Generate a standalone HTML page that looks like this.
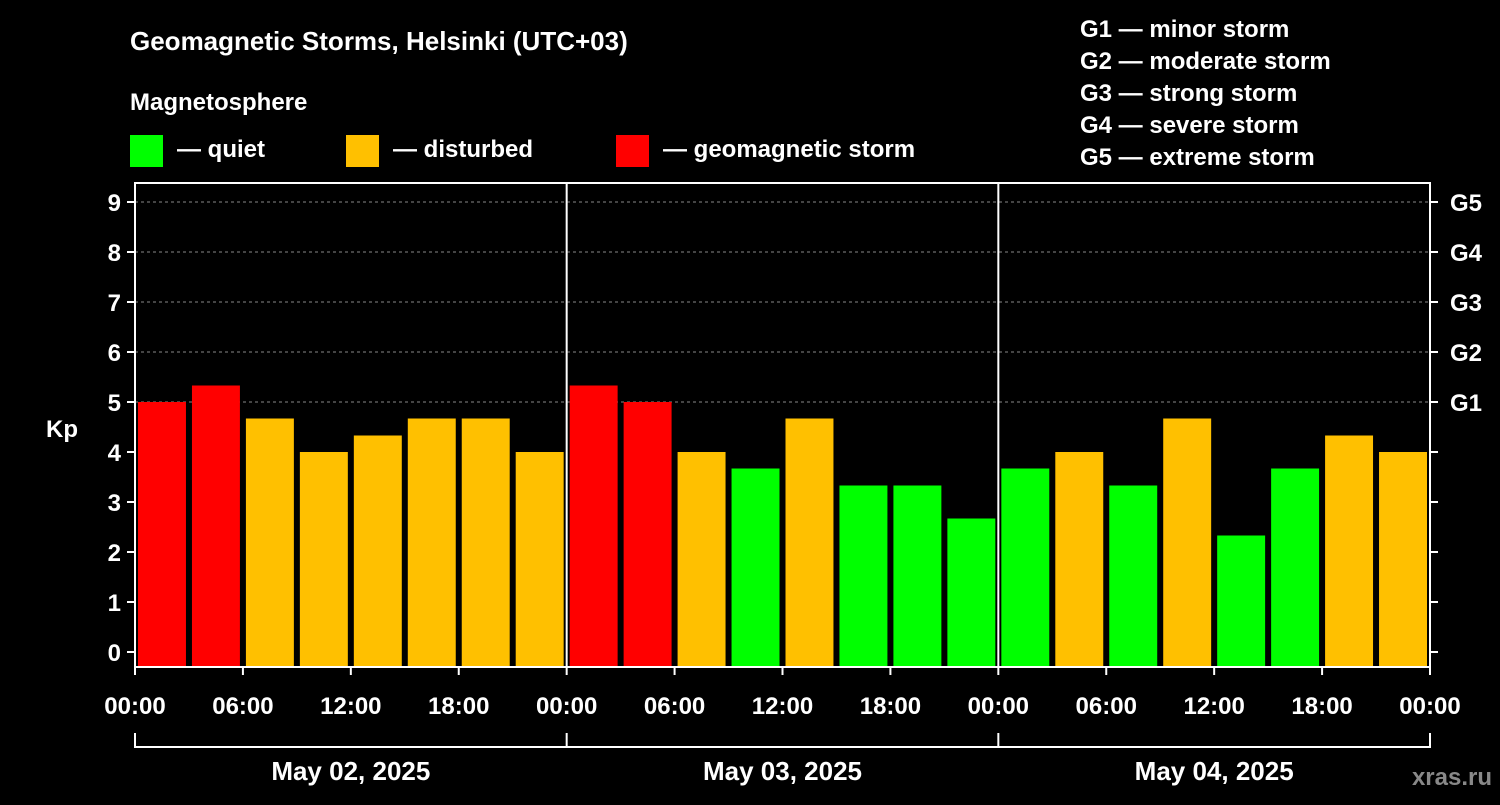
<!DOCTYPE html>
<html><head><meta charset="utf-8"><style>
body{margin:0;background:#000;width:1500px;height:800px;overflow:hidden}
svg text{font-family:"Liberation Sans",Arial,sans-serif;font-weight:bold;fill:#fff}
</style></head><body>
<svg id="c" width="1500" height="800">
<text x="130" y="50" font-size="26">Geomagnetic Storms, Helsinki (UTC+03)</text>
<text x="130" y="110" font-size="24">Magnetosphere</text>
<rect x="130" y="135" width="33" height="32" fill="#00ff00"/>
<text x="177" y="157" font-size="24">— quiet</text>
<rect x="346" y="135" width="33" height="32" fill="#ffc000"/>
<text x="393" y="157" font-size="24">— disturbed</text>
<rect x="616" y="135" width="33" height="32" fill="#ff0000"/>
<text x="663" y="157" font-size="24">— geomagnetic storm</text>
<g font-size="24">
<text x="1080" y="37">G1 — minor storm</text>
<text x="1080" y="69">G2 — moderate storm</text>
<text x="1080" y="101">G3 — strong storm</text>
<text x="1080" y="133">G4 — severe storm</text>
<text x="1080" y="165">G5 — extreme storm</text>
</g>
<text x="62" y="437" font-size="24" text-anchor="middle">Kp</text>
<text x="1492" y="785" font-size="24" text-anchor="end" fill="#888" style="fill:#888">xras.ru</text>
<g id="grid"></g><g id="bars"></g><g id="axes"></g>
</svg>
<script>
const kpValues=[5,5.33,4.67,4,4.33,4.67,4.67,4, 5.33,5,4,3.67,4.67,3.33,3.33,2.67, 3.67,4,3.33,4.67,2.33,3.67,4.33,4];
const dayLabels=["May 02, 2025","May 03, 2025","May 04, 2025"];
const hourLabels=["00:00","06:00","12:00","18:00"];
const gLabels=["G1","G2","G3","G4","G5"];
const NS="http://www.w3.org/2000/svg";
const X0=135,X1=1430,YT=183,YB=667;
const slot=(X1-X0)/kpValues.length;
const y=v=>652-50*v;
const x=i=>X0+i*slot;
function mk(p,t,a){const e=document.createElementNS(NS,t);for(const k in a)e.setAttribute(k,a[k]);p.appendChild(e);return e;}
const grid=document.getElementById('grid'),bars=document.getElementById('bars'),axes=document.getElementById('axes');
for(let v=5;v<=9;v++){const l=mk(grid,'line',{x1:X0,x2:X1,y1:y(v),y2:y(v),stroke:'#888','stroke-dasharray':'3,3'});

}
kpValues.forEach((v,i)=>{const c=v>=5?'#ff0000':v>=4?'#ffc000':'#00ff00';
const r=mk(bars,'rect',{x:x(i)+3,y:y(v),width:slot-6,height:YB-y(v),fill:c});

});
const fr=mk(axes,'rect',{x:X0,y:YT,width:X1-X0,height:YB-YT,fill:'none',stroke:'#fff','stroke-width':2});


for(let d=1;d<dayLabels.length;d++){const l=mk(axes,'line',{x1:x(d*8),x2:x(d*8),y1:YT,y2:YB,stroke:'#fff','stroke-width':2});

}
for(let v=0;v<=9;v++){
mk(axes,'line',{x1:X0-8,x2:X0,y1:y(v),y2:y(v),stroke:'#fff','stroke-width':2});
mk(axes,'line',{x1:X1,x2:X1+8,y1:y(v),y2:y(v),stroke:'#fff','stroke-width':2});
const t=mk(axes,'text',{x:X0-14,y:y(v)+9,'font-size':24,'text-anchor':'end'});t.textContent=v;


if(v>=5){const g=mk(axes,'text',{x:X1+20,y:y(v)+9,'font-size':24});g.textContent=gLabels[v-5];

}}
const nT=dayLabels.length*hourLabels.length;
for(let k=0;k<=nT;k++){const xx=X0+k*(X1-X0)/nT;
mk(axes,'line',{x1:xx,x2:xx,y1:YB,y2:YB+8,stroke:'#fff','stroke-width':2});
const t=mk(axes,'text',{x:xx,y:714,'font-size':24,'text-anchor':'middle'});t.textContent=hourLabels[k%hourLabels.length];

}
mk(axes,'line',{x1:X0,x2:X1,y1:747,y2:747,stroke:'#fff','stroke-width':2});
for(let d=0;d<=dayLabels.length;d++){const xx=x(d*8);mk(axes,'line',{x1:xx,x2:xx,y1:733,y2:748,stroke:'#fff','stroke-width':2});}
dayLabels.forEach((s,d)=>{const t=mk(axes,'text',{x:(x(d*8)+x(d*8+8))/2,y:780,'font-size':26,'text-anchor':'middle'});t.textContent=s;

});
</script>
</body></html>
